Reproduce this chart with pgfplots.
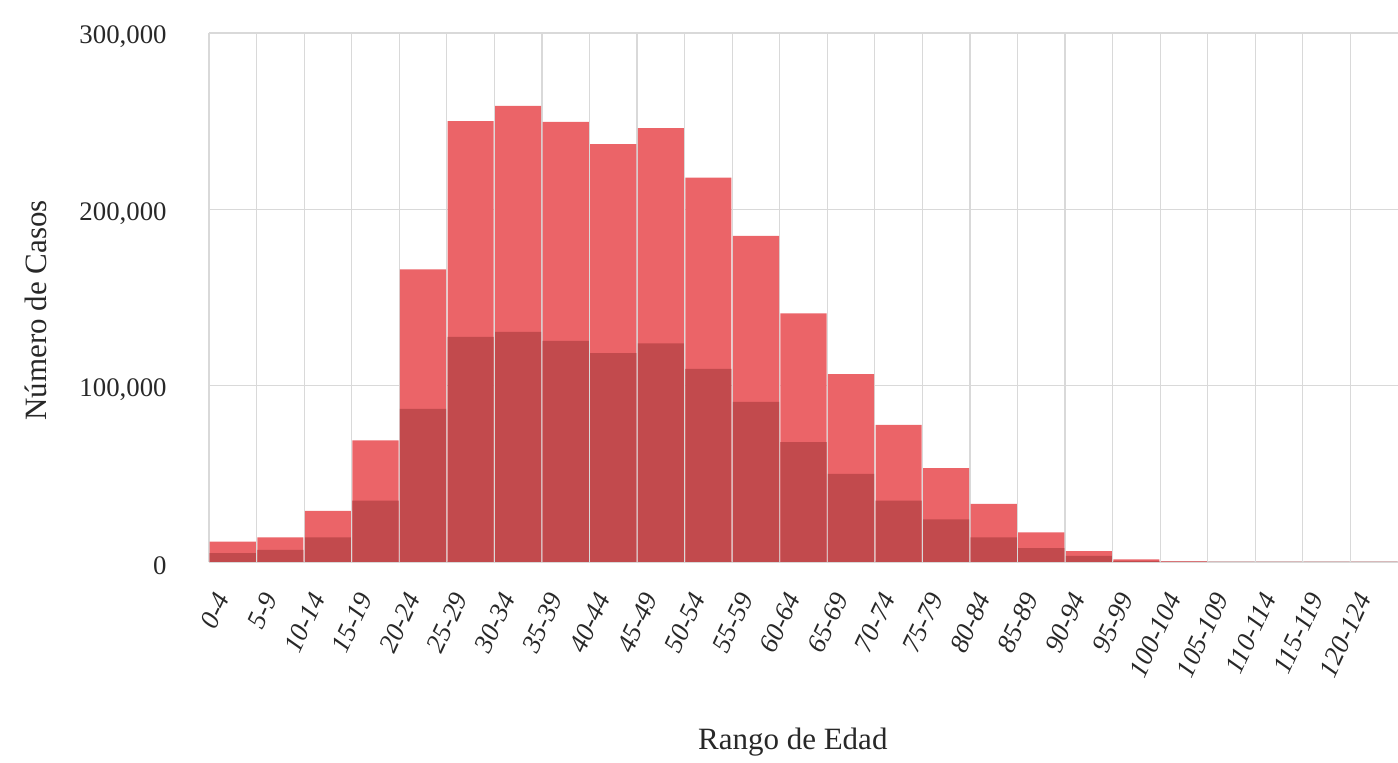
\documentclass[border=0pt]{standalone}
\usepackage{pgfplots}
\pgfplotsset{compat=1.18}
\usepackage{fontspec}
\setmainfont{Liberation Serif}
\definecolor{barlight}{RGB}{235,100,104}
\definecolor{bardark}{RGB}{194,74,77}
\definecolor{gridgray}{RGB}{217,217,217}
\definecolor{txt}{RGB}{40,40,40}
\begin{document}
\begin{tikzpicture}
\useasboundingbox (-104.5pt,-100.5pt) rectangle (594.5pt,281pt);
\begin{axis}[
  at={(0,0)}, anchor=south west,
  scale only axis,
  width=594.5pt, height=264.5pt,
  xmin=-0.5, xmax=24.5,
  ymin=0, ymax=300000,
  ytick={0,100000,200000,300000},
  yticklabels={0,{100,000},{200,000},{300,000}},
  scaled y ticks=false,
  xtick={0,...,24},
  xticklabels={0-4,5-9,10-14,15-19,20-24,25-29,30-34,35-39,40-44,45-49,50-54,55-59,60-64,65-69,70-74,75-79,80-84,85-89,90-94,95-99,100-104,105-109,110-114,115-119,120-124},
  minor xtick={-0.5,0.5,...,23.5},
  xmajorgrids=false, xminorgrids=true, ymajorgrids=true,
  grid style={gridgray, line width=0.6pt},
  minor grid style={gridgray, line width=0.6pt},
  axis line style={draw=none},
  major tick length=0pt, minor tick length=0pt,
  yticklabel style={anchor=east, inner sep=0pt, xshift=-21pt, yshift=-2pt, text=txt,
    font=\fontsize{13.4}{16}\selectfont},
  xticklabel style={xshift=-5pt, yshift=-16pt, rotate=65, anchor=east, inner sep=0pt, text=txt,
    font=\fontsize{13.4}{16}\selectfont\itshape},
  xlabel={Rango de Edad},
  ylabel={Número de Casos},
  xlabel style={at={(axis description cs:0.491,-0.340)}, anchor=center, text=txt,
    font=\fontsize{15.5}{18}\selectfont},
  ylabel style={at={(axis description cs:-0.146,0.476)}, anchor=center, rotate=0, text=txt,
    font=\fontsize{15.5}{18}\selectfont},
  ybar, bar width=0.97, bar shift=0pt,
]
\addplot[fill=barlight, draw=none] coordinates {
  (0,11500) (1,14000) (2,29000) (3,69000) (4,166000) (5,250000) (6,258600)
  (7,249600) (8,237000) (9,246000) (10,218000) (11,185000) (12,141000)
  (13,106600) (14,77700) (15,53300) (16,32900) (17,16800) (18,6200)
  (19,1500) (20,400) (21,60) (22,20) (23,10) (24,5)
};
\addplot[fill=bardark, draw=none] coordinates {
  (0,5000) (1,6800) (2,14000) (3,34800) (4,86800) (5,127600) (6,130500)
  (7,125400) (8,118500) (9,124000) (10,109500) (11,90800) (12,68000)
  (13,50000) (14,34800) (15,24200) (16,14000) (17,7800) (18,3400)
  (19,700) (20,150) (21,25) (22,8) (23,4) (24,2)
};
\end{axis}
\end{tikzpicture}
\end{document}
